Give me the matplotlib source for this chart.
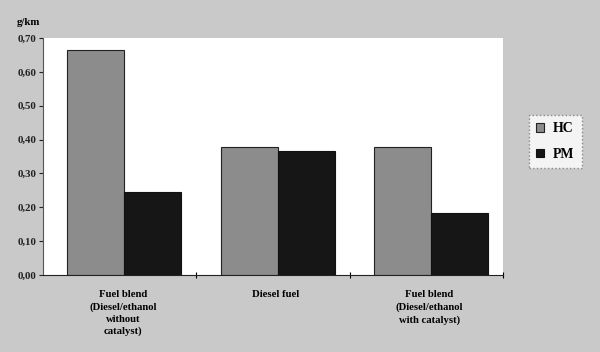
import matplotlib.pyplot as plt
import numpy as np

categories = ["Fuel blend\n(Diesel/ethanol\nwithout\ncatalyst)", "Diesel fuel",
              "Fuel blend\n(Diesel/ethanol\nwith catalyst)"]
hc = [0.665, 0.378, 0.378]
pm = [0.245, 0.367, 0.182]
yticks = [0.0, 0.1, 0.2, 0.3, 0.4, 0.5, 0.6, 0.7]
ytick_labels = ["0,00", "0,10", "0,20", "0,30", "0,40", "0,50", "0,60", "0,70"]

plt.rcParams['font.family'] = ['Liberation Serif', 'DejaVu Serif']
plt.rcParams['font.weight'] = 'bold'

fig = plt.figure(figsize=(6, 3.52), dpi=100)
fig.patch.set_facecolor('#c9c9c9')
ax = fig.add_axes([0.072, 0.219, 0.766, 0.673])
ax.set_facecolor('white')

x = np.arange(len(categories))
w = 0.372
shift = 0.03
ax.bar(x + shift - w / 2, hc, width=w, color='#8c8c8c', edgecolor='#222222', linewidth=0.8, label='HC')
ax.bar(x + shift + w / 2, pm, width=w, color='#161616', edgecolor='#111111', linewidth=0.8, label='PM')

ax.set_xlim(-0.5, 2.5)
ax.set_ylim(0, 0.7)
ax.set_yticks(yticks)
ax.set_yticklabels(ytick_labels, fontsize=7.8, fontweight='bold')
ax.set_xticks([0.5, 1.5, 2.5])
ax.set_xticklabels([])
for xi, lab in zip(x, categories):
    ax.text(xi + 0.02, -0.045, lab, ha='center', va='top', fontsize=7.7, fontweight='bold',
            linespacing=1.42, transform=ax.transData)

ax.spines['top'].set_visible(False)
ax.spines['right'].set_visible(False)
ax.spines['left'].set_color('#555555')
ax.spines['bottom'].set_color('#222222')
ax.tick_params(axis='y', direction='out', length=3, width=0.8, pad=2, colors='#222222')
ax.tick_params(axis='x', direction='inout', length=5, width=0.8)

fig.text(0.028, 0.937, "g/km", fontsize=7.8, fontweight='bold', ha='left', va='center')

leg = ax.legend(loc='center left', bbox_to_anchor=(1.05, 0.563), frameon=True, fancybox=False,
                fontsize=10, handlelength=0.55, handleheight=0.55, labelspacing=0.9,
                borderpad=0.55, handletextpad=0.65, borderaxespad=0.2)
leg.get_frame().set_edgecolor('#888888')
leg.get_frame().set_facecolor('#f4f4f4')
leg.get_frame().set_alpha(1)
leg.get_frame().set_linestyle(':')
leg.get_frame().set_linewidth(1.0)

fig.savefig('out.png', dpi=100, facecolor=fig.get_facecolor())
